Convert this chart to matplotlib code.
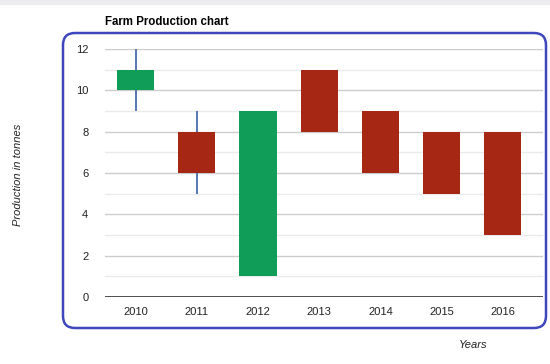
import matplotlib
matplotlib.use('Agg')
import matplotlib.pyplot as plt
from matplotlib.patches import FancyBboxPatch, Rectangle
import numpy as np

plt.rcParams['font.family'] = ['Liberation Sans', 'DejaVu Sans']

anos = ['2010', '2011', '2012', '2013', '2014', '2015', '2016']
low = [9, 5, 1, 8, 6, 5, 3]
open_ = [10, 8, 1, 11, 9, 8, 8]
close = [11, 6, 9, 8, 6, 5, 3]
high = [12, 9, 9, 11, 9, 8, 8]

verde = '#0f9d58'
vermelho = '#a52714'

fig = plt.figure(figsize=(5.5, 3.64), dpi=100)

# faixa cinza no topo
fig.patches.append(Rectangle((0, 1 - 5/364), 1, 5/364, transform=fig.transFigure,
                             facecolor='#ececf1', edgecolor='none', zorder=0))

# borda azul arredondada
x0, x1 = 63/550, 546/550
y0, y1 = 1 - 328/364, 1 - 33/364
borda = FancyBboxPatch((x0, y0), x1 - x0, y1 - y0,
                       boxstyle='round,pad=0,rounding_size=0.022',
                       transform=fig.transFigure, facecolor='none',
                       edgecolor='#3f47bd', linewidth=1.8, zorder=5,
                       mutation_aspect=550/364)
fig.patches.append(borda)

ax = fig.add_axes([105/550, 1 - 297/364, (542.6 - 105)/550, 248/364])

x = np.arange(len(anos))
ax.vlines(x, low, high, color='#3a62a7', linewidth=1.2, zorder=2)
for i in range(len(anos)):
    cor = verde if close[i] > open_[i] else vermelho
    base = min(open_[i], close[i])
    ax.bar(x[i], abs(close[i] - open_[i]), bottom=base, width=0.61,
           color=cor, zorder=3)

ax.set_xlim(-0.5, 6.65)
ax.set_ylim(0, 12)
ax.set_yticks([0, 2, 4, 6, 8, 10, 12])
ax.set_yticks([1, 3, 5, 7, 9, 11], minor=True)
ax.grid(axis='y', which='major', color='#cccccc', linewidth=1, zorder=0)
ax.grid(axis='y', which='minor', color='#ebebeb', linewidth=1, zorder=0)
ax.axhline(0, color='#333333', linewidth=1.2, zorder=4)
ax.set_xticks(x)
ax.set_xticklabels(anos)
ax.tick_params(axis='both', which='both', length=0, labelsize=8, colors='#222222')
ax.tick_params(axis='x', pad=7)
ax.tick_params(axis='y', pad=12)
for s in ax.spines.values():
    s.set_visible(False)

fig.text(105/550, 1 - 22/364, 'Farm Production chart', fontsize=8.3,
         fontweight='bold', va='center', ha='left', color='#000000')
fig.text(18/550, 1 - 175/364, 'Production in tonnes', fontsize=8,
         style='italic', rotation=90, va='center', ha='center', color='#222222')
fig.text(473/550, 1 - 345/364, 'Years', fontsize=8, style='italic',
         va='center', ha='center', color='#222222')

plt.savefig('out.png', dpi=100)
